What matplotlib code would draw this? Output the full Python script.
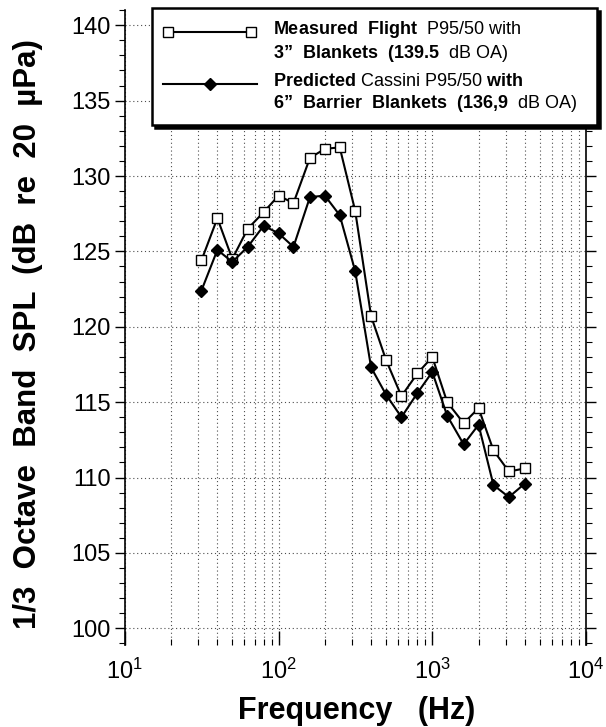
import numpy as np
import matplotlib
matplotlib.use('Agg')
import matplotlib.pyplot as plt
from matplotlib.ticker import MultipleLocator, LogLocator, NullFormatter
from matplotlib.legend_handler import HandlerLine2D

plt.rcParams['font.family'] = ['Liberation Sans', 'DejaVu Sans']
plt.rcParams['mathtext.fontset'] = 'custom'
plt.rcParams['mathtext.rm'] = 'Liberation Sans'
plt.rcParams['mathtext.bf'] = 'Liberation Sans:bold'
plt.rcParams['mathtext.it'] = 'Liberation Sans:italic'
plt.rcParams['mathtext.default'] = 'regular'

# 1/3 octave band centre frequencies (Hz)
freq = [31.5, 40, 50, 63, 80, 100, 125, 160, 200, 250, 315, 400,
        500, 630, 800, 1000, 1250, 1600, 2000, 2500, 3150, 4000]

# measured flight P95/50, 3" blankets
measured = [124.4, 127.2, 124.5, 126.5, 127.6, 128.7, 128.2, 131.2, 131.8, 131.9, 127.7, 120.7,
            117.8, 115.4, 116.9, 118.0, 115.0, 113.6, 114.6, 111.8, 110.4, 110.6]

# predicted Cassini P95/50, 6" barrier blankets
predicted = [122.4, 125.1, 124.3, 125.3, 126.7, 126.2, 125.3, 128.6, 128.7, 127.4, 123.7, 117.3,
             115.5, 114.0, 115.6, 117.0, 114.1, 112.2, 113.5, 109.5, 108.7, 109.6]

meas_label = (r'$\mathbf{Measured\ \ Flight}$  P95/50 with' + '\n'
              + r'$\mathbf{3' + '\u201d' + r'\ \ Blankets\ \ (139.5}$  dB OA)')
pred_label = (r'$\mathbf{Predicted}$ Cassini P95/50 $\mathbf{with}$' + '\n'
              + r'$\mathbf{6' + '\u201d' + r'\ \ Barrier\ \ Blankets\ \ (136{,}9}$  dB OA)')


class FirstLineHandler(HandlerLine2D):
    """Puts the legend key next to the first line of a two line label."""
    def __init__(self, shift, **kw):
        super().__init__(**kw)
        self.shift = shift

    def create_artists(self, legend, orig_handle, xdescent, ydescent,
                       width, height, fontsize, trans):
        artists = super().create_artists(legend, orig_handle, xdescent, ydescent,
                                         width, height, fontsize, trans)
        for a in artists:
            a.set_ydata(np.asarray(a.get_ydata()) + self.shift * fontsize)
        return artists


fig = plt.figure(figsize=(6.06, 7.27), dpi=100)
ax = fig.add_axes([0.206, 0.113, 0.761, 0.873])

l_meas, = ax.plot(freq, measured, '-s', color='black', lw=1.5, ms=7.5,
                  mfc='white', mec='black', mew=1.0, zorder=3)
l_pred, = ax.plot(freq, predicted, '-D', color='black', lw=1.5, ms=6.5,
                  mfc='black', mec='black', zorder=4)

ax.set_xscale('log')
ax.set_xlim(10, 1e4)
ax.set_ylim(98.9, 141)

ax.set_yticks(np.arange(100, 141, 5))
ax.yaxis.set_minor_locator(MultipleLocator(1))
ax.xaxis.set_major_locator(LogLocator(base=10))
ax.xaxis.set_minor_locator(LogLocator(base=10, subs=np.arange(2, 10)))
ax.xaxis.set_minor_formatter(NullFormatter())

# dotted grid
ax.grid(which='major', axis='both', linestyle=(0, (1, 2.5)), color='0.3', lw=0.8)
ax.grid(which='minor', axis='x', linestyle=(0, (1, 2.5)), color='0.3', lw=0.8)

ax.tick_params(axis='y', which='both', direction='out', left=True, right=True)
ax.tick_params(axis='y', which='major', length=7, width=1, labelsize=17, pad=3)
ax.tick_params(axis='y', which='minor', length=4, width=0.8)
ax.tick_params(axis='x', which='both', direction='in', top=False)
ax.tick_params(axis='x', which='major', length=10, width=1, labelsize=17, pad=10)
ax.tick_params(axis='x', which='minor', length=4, width=0.8)

ax.spines['top'].set_visible(False)
ax.spines['bottom'].set_visible(False)
ax.spines['left'].set_linewidth(1.2)
ax.spines['right'].set_linewidth(1.2)

ax.set_ylabel('1/3  Octave  Band  SPL  (dB  re  20  \u00b5Pa)', fontsize=22.5, fontweight='bold')
ax.yaxis.set_label_coords(-0.178, 0.49)
ax.set_xlabel('Frequency   (Hz)', fontsize=22, fontweight='bold')
ax.xaxis.set_label_coords(0.503, -0.08)

leg = ax.legend([l_meas, l_pred], [meas_label, pred_label],
                handler_map={l_meas: FirstLineHandler(0.55, numpoints=2),
                             l_pred: FirstLineHandler(0.55, numpoints=1)},
                loc='upper left', bbox_to_anchor=(0.059, 0.816, 0.965, 0.187),
                mode='expand', borderaxespad=0, fontsize=13,
                handlelength=5.2, handletextpad=0.9, labelspacing=0.5, borderpad=0.6,
                frameon=True, fancybox=False, edgecolor='black', framealpha=1,
                shadow={'color': 'black', 'alpha': 1.0})
leg.get_frame().set_linewidth(1.8)
leg.set_zorder(10)

fig.savefig('out.png', dpi=100)
